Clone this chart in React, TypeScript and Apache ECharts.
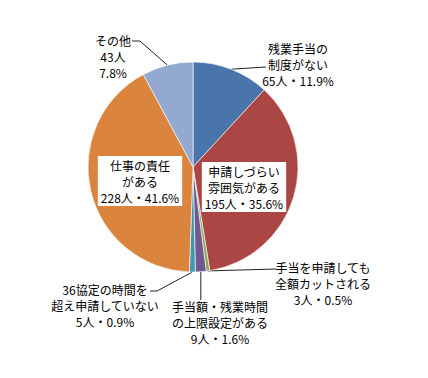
import React, { useEffect, useRef } from "react";
import * as echarts from "echarts";

const categories = [
  "残業手当の\n制度がない",
  "申請しづらい\n雰囲気がある",
  "手当を申請しても\n全額カットされる",
  "手当額・残業時間\nの上限設定がある",
  "36協定の時間を\n超え申請していない",
  "仕事の責任\nがある",
  "その他",
];
const counts = [65, 195, 3, 9, 5, 228, 43];
const colors = ["#4a75ab", "#aa4643", "#8fa65a", "#71588f", "#4198af", "#db843d", "#93a9cf"];

// label placement (annotation layout)
const labelPos: { x: number; y: number }[] = [
  { x: 298, y: 64 },
  { x: 244, y: 187 },
  { x: 323, y: 283 },
  { x: 220, y: 322 },
  { x: 105, y: 305 },
  { x: 140, y: 181 },
  { x: 113, y: 56 },
];
const boxed = [false, true, false, false, false, true, false];
const stacked = [false, false, false, false, false, false, true];

export default function App() {
  const ref = useRef<HTMLDivElement>(null);
  useEffect(() => {
    if (!ref.current) return;
    const chart = echarts.init(ref.current, undefined, { renderer: "svg" });
    const total = counts.reduce((a, b) => a + b, 0);
    const data = categories.map((name, i) => ({
      name,
      value: counts[i],
      itemStyle: { color: colors[i] },
      label: boxed[i]
        ? { backgroundColor: "#ffffff", padding: [1, 3, 1, 3] }
        : {},
      labelLine: { show: !boxed[i] },
    }));
    chart.setOption({
      animation: false,
      series: [
        {
          type: "pie",
          center: [193, 167],
          radius: 105,
          startAngle: 90,
          clockwise: true,
          avoidLabelOverlap: false,
          itemStyle: { borderColor: "#ffffff", borderWidth: 0.6 },
          label: {
            show: true,
            position: "outside",
            color: "#000",
            fontSize: 12,
            lineHeight: 16,
            fontFamily: "Noto Sans CJK JP",
            align: "center",
            formatter: (p: any) => {
              const pct = ((p.value / total) * 100).toFixed(1);
              return stacked[p.dataIndex]
                ? `${p.name}\n${p.value}人\n${pct}%`
                : `${p.name}\n${p.value}人・${pct}%`;
            },
          },
          labelLine: {
            show: true,
            lineStyle: { color: "#222", width: 1 },
          },
          labelLayout: (params: any) => {
            const i = params.dataIndex;
            const pos = labelPos[i];
            const res: any = { x: pos.x, y: pos.y, align: "center", verticalAlign: "middle" };
            const pts = params.labelLinePoints;
            if (pts && pts.length) {
              const e = pts[0];
              if (i === 0) res.labelLinePoints = [e, [250, 68], [266, 67]];
              if (i === 2) res.labelLinePoints = [e, [240, 270], [276, 269]];
              if (i === 3) res.labelLinePoints = [e, [e[0], 290], [e[0], 300]];
              if (i === 4) res.labelLinePoints = [e, [157, 291], [150, 291]];
              if (i === 6) res.labelLinePoints = [e, [140, 41], [132, 41]];
            }
            return res;
          },
          data,
        },
      ],
    });
    return () => chart.dispose();
  }, []);
  return (
    <div
      ref={ref}
      style={{ position: "absolute", left: 0, top: 0, width: 428, height: 378 }}
    />
  );
}
